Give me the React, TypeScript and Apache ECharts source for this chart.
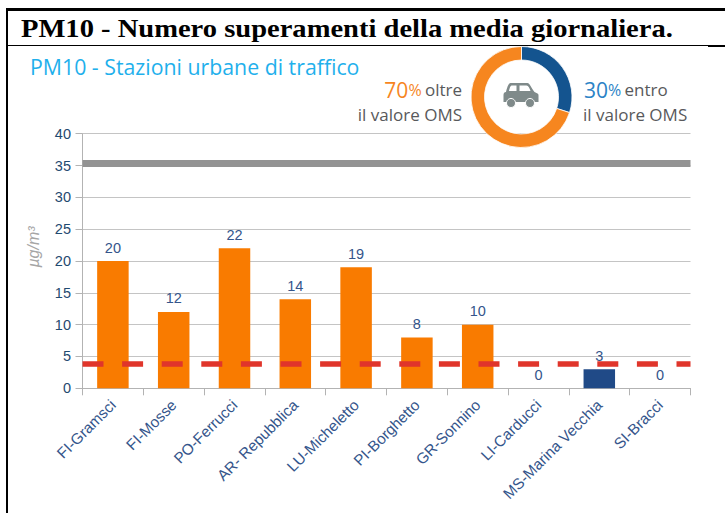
import React, { useEffect, useRef } from "react";
import * as echarts from "echarts";

const title = "PM10 - Numero superamenti della media giornaliera.";
const subtitle = "PM10 - Stazioni urbane di traffico";
const categories = ["FI-Gramsci", "FI-Mosse", "PO-Ferrucci", "AR- Repubblica", "LU-Micheletto", "PI-Borghetto", "GR-Sonnino", "LI-Carducci", "MS-Marina Vecchia", "SI-Bracci"];
const values = [20, 12, 22, 14, 19, 8, 10, 0, 3, 0];
const barColors = ["#f97b00", "#f97b00", "#f97b00", "#f97b00", "#f97b00", "#f97b00", "#f97b00", "#f97b00", "#204a87", "#f97b00"];
const yMin = 0;
const yMax = 40;
const yInterval = 5;
const limitOms = 35.3;
const limitRed = 3.8;
const donutNames = ["entro", "oltre"];
const donutValues = [30, 70];
const donutColors = ["#14548f", "#f6861f"];

const carPath =
  "M7 0 L24 0 C26 0 28 5 31 9 L34 10.5 C35 11 35 12 35 13 L35 19 L0 19 L0 12 C0 10 1 9 2.5 9 C3.5 5 5 0 7 0 Z " +
  "M8 2.5 C7 2.5 6 5 5.5 8 L13 8 L13 2.5 Z " +
  "M16 2.5 L16 8 L27 8 C26 5 25 2.5 23 2.5 Z";
echarts.graphic.registerShape("car", echarts.graphic.extendPath(carPath, {}) as any);

const sans = "'Open Sans', 'Noto Sans', sans-serif";
const grey = "#58595b";

export default function App() {
  const ref = useRef<HTMLDivElement>(null);
  useEffect(() => {
    const chart = echarts.init(ref.current!, null, { renderer: "svg" });
    chart.setOption({
      animation: false,
      backgroundColor: "#fff",
      grid: { left: 82.5, width: 608, top: 133.7, height: 254.6, containLabel: false },
      xAxis: {
        type: "category",
        data: categories,
        axisLine: { lineStyle: { color: "#b3b3b3", width: 1 } },
        axisTick: { show: true, length: 7, lineStyle: { color: "#b3b3b3" } },
        axisLabel: { rotate: 45, color: "#34558b", fontFamily: "Liberation Sans", fontSize: 15.3, margin: 14, interval: 0 },
      },
      yAxis: {
        type: "value",
        min: yMin,
        max: yMax,
        interval: yInterval,
        axisLine: { show: true, lineStyle: { color: "#b3b3b3" } },
        axisTick: { show: true, length: 7, lineStyle: { color: "#b3b3b3" } },
        axisLabel: { color: "#1f4a70", fontFamily: "Liberation Sans", fontSize: 14.5, margin: 11.5 },
        splitLine: { show: true, lineStyle: { color: "#c4c4c4", width: 1 } },
      },
      series: [
        {
          type: "bar",
          data: values.map((v, i) => ({ value: v, itemStyle: { color: barColors[i] } })),
          barWidth: 31.5,
          label: { show: true, position: "top", distance: 6, color: "#34558b", fontFamily: "Liberation Sans", fontSize: 14.5 },
          markLine: {
            silent: true,
            symbol: "none",
            label: { show: false },
            animation: false,
            data: [
              { yAxis: limitOms, lineStyle: { color: "#939393", width: 7, type: "solid", cap: "butt" } },
              { yAxis: limitRed, lineStyle: { color: "#e0352b", width: 5.5, type: [21, 18.6], cap: "butt" } },
            ],
          },
        },
        {
          type: "pie",
          center: [521.5, 97],
          radius: [37, 50.5],
          startAngle: 90,
          clockwise: true,
          z: 10,
          silent: true,
          label: { show: false },
          labelLine: { show: false },
          itemStyle: { borderColor: "#fff", borderWidth: 0.8 },
          data: donutNames.map((n, i) => ({ name: n, value: donutValues[i], itemStyle: { color: donutColors[i] } })),
        },
      ],
      graphic: [
        { type: "rect", z: 20, shape: { x: 6, y: 8, width: 719, height: 3 }, style: { fill: "#000" } },
        { type: "rect", z: 20, shape: { x: 6, y: 8, width: 2, height: 505 }, style: { fill: "#000" } },
        { type: "rect", z: 20, shape: { x: 6, y: 45, width: 719, height: 1 }, style: { fill: "#000" } },
        { type: "rect", z: 20, shape: { x: 708, y: 45, width: 17, height: 2 }, style: { fill: "#000" } },
        { type: "text", z: 20, x: 21, y: 28, scaleX: 1.098, style: { text: title, fill: "#000", font: "bold 26px 'Liberation Serif', serif", verticalAlign: "middle" } },
        { type: "text", z: 20, x: 30, y: 66.5, style: { text: subtitle, fill: "#1fb0ec", font: `21.3px ${sans}`, verticalAlign: "middle" } },
        {
          type: "text", z: 20, x: 462, y: 89.5,
          style: {
            text: "{a|70}{p|%} {b|oltre}", align: "right", verticalAlign: "middle",
            rich: {
              a: { fill: "#f6861f", fontSize: 21, fontFamily: sans, lineHeight: 18 },
              p: { fill: "#f6861f", fontSize: 16, fontFamily: sans, lineHeight: 18 },
              b: { fill: grey, fontSize: 17, fontFamily: sans, lineHeight: 18 },
            },
          },
        },
        { type: "text", z: 20, x: 462, y: 114, style: { text: "il valore OMS", fill: grey, font: `17px ${sans}`, align: "right", verticalAlign: "middle" } },
        {
          type: "text", z: 20, x: 584, y: 89.5,
          style: {
            text: "{a|30}{p|%} {b|entro}", verticalAlign: "middle",
            rich: {
              a: { fill: "#2b83c6", fontSize: 21, fontFamily: sans, lineHeight: 18 },
              p: { fill: "#2b83c6", fontSize: 16, fontFamily: sans, lineHeight: 18 },
              b: { fill: grey, fontSize: 17, fontFamily: sans, lineHeight: 18 },
            },
          },
        },
        { type: "text", z: 20, x: 583, y: 114, style: { text: "il valore OMS", fill: grey, font: `17px ${sans}`, verticalAlign: "middle" } },
        { type: "text", z: 20, x: 33, y: 247, rotation: Math.PI / 2, style: { text: "µg/m³", fill: "#a6a6a6", font: "italic 16px 'Liberation Sans'", align: "center", verticalAlign: "middle" } },
        { type: "car", z: 20, x: 503.5, y: 83, style: { fill: "#7f8a8a" } },
        { type: "circle", z: 21, shape: { cx: 511, cy: 103, r: 4.5 }, style: { fill: "#7f8a8a", stroke: "#fff", lineWidth: 1 } },
        { type: "circle", z: 21, shape: { cx: 530, cy: 103, r: 4.5 }, style: { fill: "#7f8a8a", stroke: "#fff", lineWidth: 1 } },
      ],
    });
    return () => chart.dispose();
  }, []);
  return <div ref={ref} style={{ position: "fixed", left: 0, top: 0, width: 725, height: 513 }} />;
}
